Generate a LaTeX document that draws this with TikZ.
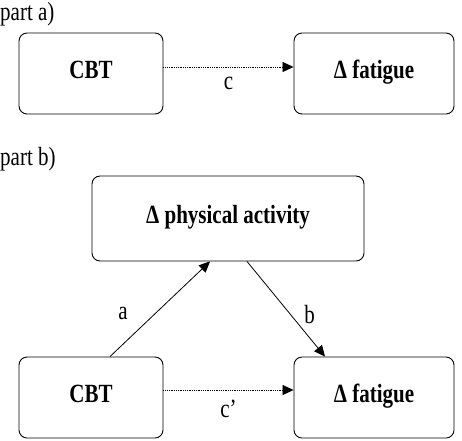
\documentclass[tikz,border=0pt]{standalone}
\usepackage{fontspec}
\setmainfont{Liberation Serif}
\usetikzlibrary{arrows.meta}
\newcommand{\tall}[1]{\scalebox{1}[1.25]{#1}}

\begin{document}
\begin{tikzpicture}[x=1pt,y=-1pt,
    box/.style={draw,rounded corners=8pt,line width=0.9pt,inner sep=0pt,text height=14pt,text depth=4pt,font=\fontsize{21}{25}\selectfont\bfseries},
    effect/.style={-{Triangle[length=11pt,width=10pt]},line width=0.8pt},
    lbl/.style={font=\fontsize{21}{25}\selectfont}]
    \useasboundingbox (0,0) rectangle (462,440);
    % part a)
    \node[lbl,anchor=base west,inner sep=0pt] (parta) at (0,20) {\tall{part a)}};
    \node[box,minimum width=144pt,minimum height=81pt] (cbta) at (91,73.5) {\tall{CBT}};
    \node[box,minimum width=160pt,minimum height=81pt] (fata) at (374,73.5) {\tall{Δ fatigue}};
    \draw[effect,densely dotted] ([yshift=6.5pt]cbta.east) -- ([yshift=6.5pt]fata.west)
        node[lbl,midway,yshift=-16pt] (c) {\tall{c}};
    % part b)
    \node[lbl,anchor=base west,inner sep=0pt] (partb) at (0,165) {\tall{part b)}};
    \node[box,minimum width=272pt,minimum height=85pt] (phys) at (228,218.5) {\tall{Δ physical activity}};
    \node[box,minimum width=144pt,minimum height=81pt] (cbtb) at (91,397.5) {\tall{CBT}};
    \node[box,minimum width=160pt,minimum height=81pt] (fatb) at (374,397.5) {\tall{Δ fatigue}};
    \draw[effect] ([xshift=19pt]cbtb.north) -- ([xshift=-18pt]phys.south)
        node[lbl,pos=0.45,xshift=-32pt] (a) {\tall{a}};
    \draw[effect] ([xshift=19pt]phys.south) -- ([xshift=-49pt]fatb.north)
        node[lbl,pos=0.56,xshift=19pt] (b) {\tall{b}};
    \draw[effect,densely dotted] ([yshift=7.5pt]cbtb.east) -- ([yshift=7.5pt]fatb.west)
        node[lbl,midway,yshift=-19pt] (cp) {\tall{c’}};
\end{tikzpicture}
\end{document}
